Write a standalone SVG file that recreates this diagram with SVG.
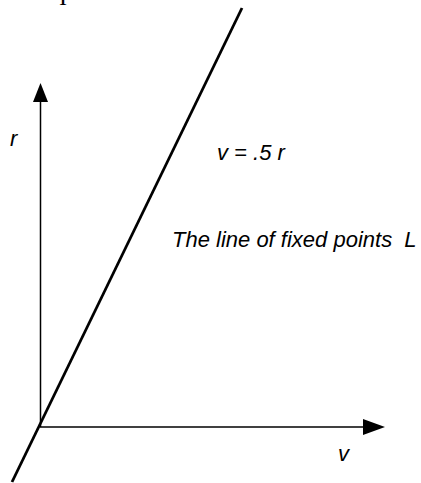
<svg xmlns="http://www.w3.org/2000/svg" width="421" height="483" viewBox="0 0 421 483">
<style>
.lbl{font-family:"Liberation Sans",Arial,sans-serif;font-style:italic;font-size:22px;fill:#000;white-space:pre}
.axis{stroke:#000;stroke-width:1.5;fill:none}
.head{fill:#000;stroke:none}
</style>
<rect width="421" height="483" fill="#fff"/>
<text x="63" y="5" font-family="Liberation Serif,serif" font-size="24" text-anchor="middle">I</text>
<g id="connectors">
<line class="axis" x1="40.5" y1="427" x2="40.5" y2="100"/>
<polygon class="head" points="33,102 48,102 40.5,83"/>
<line class="axis" x1="40" y1="427" x2="365" y2="427"/>
<polygon class="head" points="363,419 363,435 385,427"/>
<line x1="242" y1="8" x2="12" y2="482" stroke="#000" stroke-width="2.8"/>
</g>
<g id="label-r"><text class="lbl" x="10" y="146">r</text></g>
<g id="label-v"><text class="lbl" x="338" y="461">v</text></g>
<g id="label-eq"><text class="lbl" x="217" y="160">v = .5 r</text></g>
<g id="label-L"><text class="lbl" x="172" y="247" xml:space="preserve">The line of fixed points  L</text></g>
</svg>
